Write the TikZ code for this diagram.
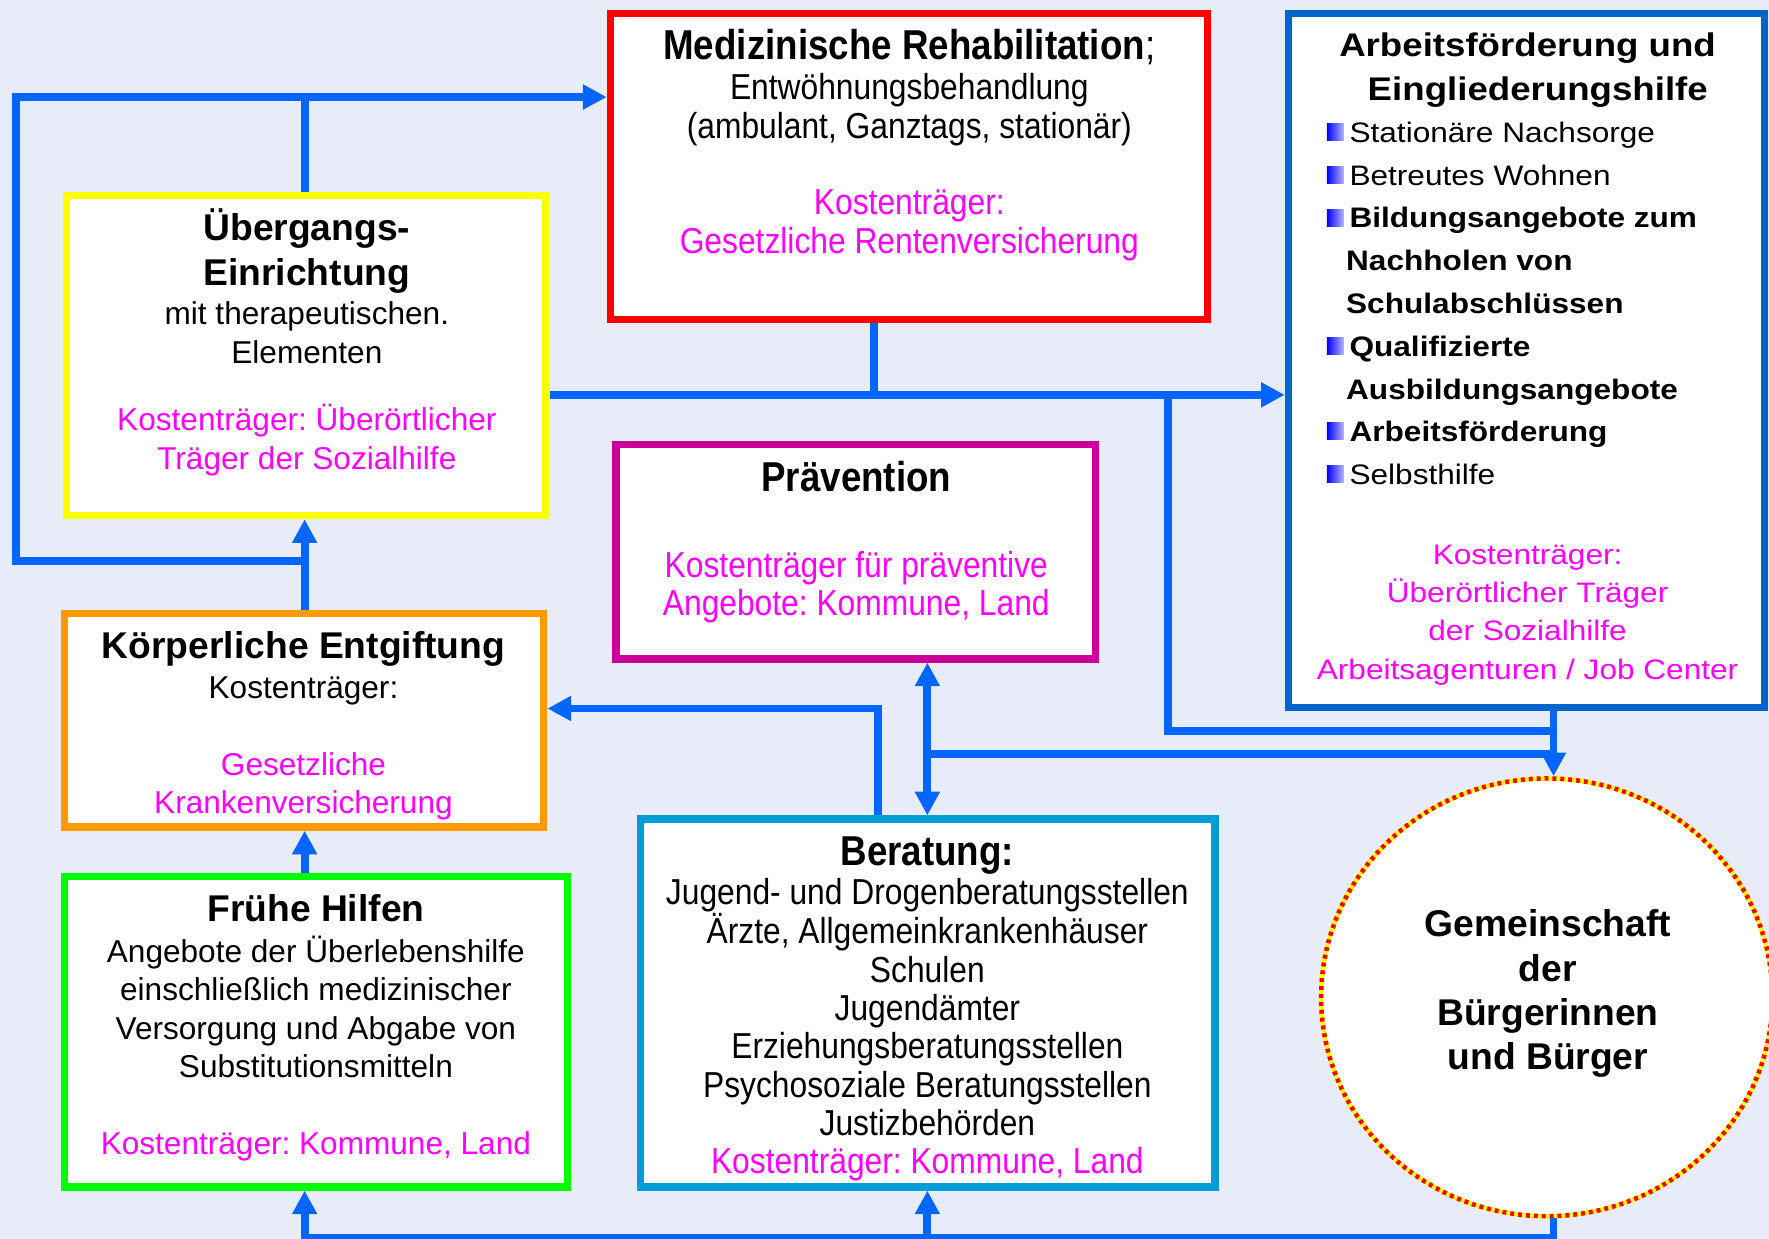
\documentclass[tikz,border=0pt]{standalone}
\usepackage{fontspec}
\setmainfont{Liberation Sans}
\newfontfamily\narrowf[FakeStretch=0.88]{Liberation Sans}
\newfontfamily\widef[FakeStretch=1.12]{Liberation Sans}
\usetikzlibrary{arrows.meta,shapes.geometric}
\frenchspacing
\definecolor{bgc}{RGB}{232,236,248}
\definecolor{connc}{RGB}{0,102,255}
\definecolor{mag}{RGB}{255,0,255}
\definecolor{cred}{RGB}{255,0,0}
\definecolor{cyel}{RGB}{255,255,0}
\definecolor{cora}{RGB}{255,153,0}
\definecolor{cgrn}{RGB}{0,255,0}
\definecolor{cpur}{RGB}{204,0,153}
\definecolor{ccya}{RGB}{0,158,216}
\definecolor{cblu}{RGB}{0,102,204}
\newcommand\fnreg{\narrowf\fontsize{32}{32}\selectfont}
\newcommand\fntit{\narrowf\bfseries\fontsize{37}{37}\selectfont}
\newcommand\fsreg{\fontsize{28}{28}\selectfont}
\newcommand\fstit{\bfseries\fontsize{33}{33}\selectfont}
\newcommand\fwreg{\widef\fontsize{25}{25}\selectfont}
\newcommand\fwbold{\widef\bfseries\fontsize{25}{25}\selectfont}
\newcommand\fwtit{\widef\bfseries\fontsize{29}{29}\selectfont}
\begin{document}
\begin{tikzpicture}[x=1pt,y=-1pt,
  >={Triangle[length=21pt,width=21pt]},
  conn/.style={draw=connc, line width=7pt},
  boxn/.style={draw=#1, fill=white, line width=6.5pt, inner sep=0pt, rectangle},
  ln/.style={anchor=base, inner sep=0pt},
  lnw/.style={anchor=base west, inner sep=0pt},
  kt/.style={text=mag}]
\useasboundingbox (0,0) rectangle (1568,1098);
\fill[bgc] (0,0) rectangle (1568,1098);

% boxes
\node[boxn=cred, minimum width=529pt, minimum height=271pt] (med) at (805.5,147.5) {};
\node[boxn=cblu, minimum width=422pt, minimum height=615pt] (arb) at (1353,319.5) {};
\node[boxn=cyel, minimum width=425pt, minimum height=284pt] (ueb) at (271.5,315) {};
\node[boxn=cora, minimum width=425pt, minimum height=189pt] (koerp) at (269.5,638.5) {};
\node[boxn=cgrn, minimum width=446pt, minimum height=275pt] (frueh) at (280,914.5) {};
\node[boxn=cpur, minimum width=425pt, minimum height=190pt] (praev) at (758.5,489) {};
\node[boxn=ccya, minimum width=509pt, minimum height=326pt] (ber) at (822.5,889) {};
\node[ellipse, draw=cyel, fill=white, line width=4pt, inner sep=0pt,
      minimum width=400pt, minimum height=388pt,
      postaction={draw=cred, line width=4pt, dash pattern=on 3.5pt off 3.5pt}] (gem) at (1371,884) {};

% coordinates for bends
\coordinate (tl) at (14,86);
\coordinate (bl) at (14,497);
\coordinate (j1) at (270,497);
\coordinate (j0) at (270,86);
\coordinate (r1) at (775,350);
\coordinate (v1) at (1035,350);
\coordinate (v2) at (1035,648);
\coordinate (v3) at (1377,648);
\coordinate (h1) at (822,668);
\coordinate (k1) at (778,628);
\coordinate (b1) at (270,1097.5);
\coordinate (b2) at (1377,1097.5);

% connectors
\draw[conn,->] (koerp.north -| j1) -- (j1) -- (bl) -- (tl) -- (med.west |- tl);
\draw[conn,->] (j1) -- (ueb.south -| j1);
\draw[conn] (ueb.north -| j0) -- (j0);
\draw[conn,->] (ueb.east |- r1) -- (arb.west |- r1);
\draw[conn] (med.south -| r1) -- (r1);
\draw[conn] (v1) -- (v2) -- (v3);
\draw[conn,->] (arb.south -| v3) -- (gem.north -| v3);
\draw[conn] (h1) -- (h1 -| v3);
\draw[conn,<->] (praev.south -| h1) -- (ber.north -| h1);
\draw[conn,->] (ber.north -| k1) -- (k1) -- (koerp.east |- k1);
\draw[conn,->] (frueh.north -| j1) -- (koerp.south -| j1);
\draw[conn,->] (gem.south -| b2) -- (b2) -- (b1) -- (frueh.south -| b1);
\draw[conn,->] (h1 |- b1) -- (ber.south -| h1);

% Medizinische Rehabilitation
\node[ln,font=\fntit] (m1) at (806,53) {Medizinische Rehabilitation{\mdseries;}};
\node[ln,font=\fnreg] (m2) at (806,88.5) {Entwöhnungsbehandlung};
\node[ln,font=\fnreg] (m3) at (806,122.5) {(ambulant, Ganztags, stationär)};
\node[ln,font=\fnreg,kt] (m4) at (806,190.5) {Kostenträger:};
\node[ln,font=\fnreg,kt] (m5) at (806,224.5) {Gesetzliche Rentenversicherung};

% Uebergangs-Einrichtung
\node[ln,font=\fstit] (u1) at (272,213) {Übergangs-};
\node[ln,font=\fstit] (u2) at (272,253) {Einrichtung};
\node[ln,font=\fsreg] (u3) at (272,288) {mit therapeutischen.};
\node[ln,font=\fsreg] (u4) at (272,322) {Elementen};
\node[ln,font=\fsreg,kt] (u5) at (272,382) {Kostenträger: Überörtlicher};
\node[ln,font=\fsreg,kt] (u6) at (272,416) {Träger der Sozialhilfe};

% Koerperliche Entgiftung
\node[ln,font=\fstit] (k1t) at (269,584) {Körperliche Entgiftung};
\node[ln,font=\fsreg] (k2t) at (269,619) {Kostenträger:};
\node[ln,font=\fsreg,kt] (k3t) at (269,687) {Gesetzliche};
\node[ln,font=\fsreg,kt] (k4t) at (269,721) {Krankenversicherung};

% Fruehe Hilfen
\node[ln,font=\fstit] (f1) at (280,817) {Frühe Hilfen};
\node[ln,font=\fsreg] (f2) at (280,853) {Angebote der Überlebenshilfe};
\node[ln,font=\fsreg] (f3) at (280,887) {einschließlich medizinischer};
\node[ln,font=\fsreg] (f4) at (280,921) {Versorgung und Abgabe von};
\node[ln,font=\fsreg] (f5) at (280,955) {Substitutionsmitteln};
\node[ln,font=\fsreg,kt] (f6) at (280,1023) {Kostenträger: Kommune, Land};

% Praevention
\node[ln,font=\fntit] (p1) at (759,436) {Prävention};
\node[ln,font=\fnreg,kt] (p2) at (759,511.5) {Kostenträger für präventive};
\node[ln,font=\fnreg,kt] (p3) at (759,545.5) {Angebote: Kommune, Land};

% Beratung
\node[ln,font=\fntit] (be1) at (822,767) {Beratung:};
\node[ln,font=\fnreg] (be2) at (822,801.5) {Jugend- und Drogenberatungsstellen};
\node[ln,font=\fnreg] (be3) at (822,836.5) {Ärzte, Allgemeinkrankenhäuser};
\node[ln,font=\fnreg] (be4) at (822,870.5) {Schulen};
\node[ln,font=\fnreg] (be5) at (822,904.5) {Jugendämter};
\node[ln,font=\fnreg] (be6) at (822,938.5) {Erziehungsberatungsstellen};
\node[ln,font=\fnreg] (be7) at (822,972.5) {Psychosoziale Beratungsstellen};
\node[ln,font=\fnreg] (be8) at (822,1006.5) {Justizbehörden};
\node[ln,font=\fnreg,kt] (be9) at (822,1040.5) {Kostenträger: Kommune, Land};

% Arbeitsfoerderung
\node[ln,font=\fwtit] (a1) at (1354,50.5) {Arbeitsförderung und};
\node[ln,font=\fwtit] (a2) at (1363,89.5) {Eingliederungshilfe};
\foreach \yy in {117,155,193,307,382,420}
  \shade[left color=blue, right color=blue!30!white] (1176,\yy-7.5) rectangle (1191,\yy+7.5);
\node[lnw,font=\fwreg] (a3) at (1196,126) {Stationäre Nachsorge};
\node[lnw,font=\fwreg] (a4) at (1196,164) {Betreutes Wohnen};
\node[lnw,font=\fwbold] (a5) at (1196,202) {Bildungsangebote zum};
\node[lnw,font=\fwbold] (a6) at (1193,240) {Nachholen von};
\node[lnw,font=\fwbold] (a7) at (1193,278) {Schulabschlüssen};
\node[lnw,font=\fwbold] (a8) at (1196,316) {Qualifizierte};
\node[lnw,font=\fwbold] (a9) at (1193,354) {Ausbildungsangebote};
\node[lnw,font=\fwbold] (a10) at (1196,391) {Arbeitsförderung};
\node[lnw,font=\fwreg] (a11) at (1196,429) {Selbsthilfe};
\node[ln,font=\fwreg,kt] (a12) at (1354,500) {Kostenträger:};
\node[ln,font=\fwreg,kt] (a13) at (1354,534) {Überörtlicher Träger};
\node[ln,font=\fwreg,kt] (a14) at (1354,568) {der Sozialhilfe};
\node[ln,font=\fwreg,kt] (a15) at (1354,602) {Arbeitsagenturen / Job Center};

% Gemeinschaft
\node[ln,font=\fstit] (g1) at (1372,830) {Gemeinschaft};
\node[ln,font=\fstit] (g2) at (1372,870) {der};
\node[ln,font=\fstit] (g3) at (1372,909) {Bürgerinnen};
\node[ln,font=\fstit] (g4) at (1372,948) {und Bürger};
\end{tikzpicture}
\end{document}
